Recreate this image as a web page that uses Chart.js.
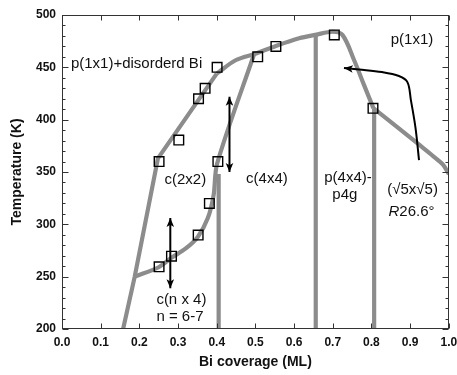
<!DOCTYPE html>
<html>
<head>
<meta charset="utf-8">
<script src="https://cdn.jsdelivr.net/npm/chart.js@4"></script>
<style>
html,body{margin:0;padding:0;background:#fff;}
canvas{display:block;}
</style>
</head>
<body>
<canvas id="c" width="457" height="375"></canvas>
<script>
// ---- data ----
const xTicks = [0,0.1,0.2,0.3,0.4,0.5,0.6,0.7,0.8,0.9,1.0];
const yTicks = [200,250,300,350,400,450,500];

const squareX = [0.251,0.283,0.352,0.381,0.251,0.302,0.353,0.370,0.401,0.403,0.506,0.553,0.704,0.804];
const squareT = [259.4,269.6,289.7,320,360,380.5,420,430,450,360,460,470,481,410.8];

// upper boundary, straight part
const upLeftX = [0.158,0.188,0.248,0.400];
const upLeftT = [200,250,363,444];
// upper boundary, curved top
const upTopX = [0.400,0.450,0.500,0.550,0.613,0.655,0.700,0.725,0.755,0.781,0.805];
const upTopT = [444,457,463,470,477.7,481,484,481,457,433,411];
// right branch
const rightX = [0.805,0.870,0.920,0.960,0.985,1.000];
const rightT = [411,392,377,365,357,348];
// c(n x 4) / c(2x2) / c(4x4) boundary
const lowX = [0.188,0.250,0.283,0.320,0.351,0.377,0.392,0.401,0.497];
const lowT = [250,259,268,277,288,306,328,358,463];
// vertical phase boundaries
const vertX = [0.405,0.656,0.807];
const vertTop = [348,480,411];
const vertBottom = 200;

// black arrows
const arrow1X = [0.28,0.28];   const arrow1T = [239,306];
const arrow2X = [0.433,0.433]; const arrow2T = [350,422];
const arrow3X = [0.923,0.914,0.902,0.893,0.871,0.827,0.768,0.729];
const arrow3T = [361.4,392,418.7,435.9,441.7,445.5,447.9,449.3];

// text labels
const labelText = ['p(1x1)+disorderd Bi','p(1x1)','c(2x2)','c(4x4)','p(4x4)-','p4g','(\u221A5x\u221A5)','c(n x 4)','n = 6-7'];
const labelX    = [0.023,0.850,0.265,0.476,0.678,0.699,0.841,0.244,0.244];
const labelT    = [452.9,476,342.3,343.9,344,327.9,332.7,227.5,211.6];
const rotLabelX = 0.844, rotLabelT = 312; // "R26.6°"

const FONT = "'Liberation Sans', Arial, Helvetica, sans-serif";
const GRAY = '#8c8c8c';

function pts(xs, ys){ return xs.map((x,i)=>({x:x, y:ys[i]})); }

function grayLine(xs, ys, tension){
  return {data: pts(xs,ys), showLine:true, borderColor:GRAY, borderWidth:4.2,
          pointRadius:0, tension:tension, fill:false, borderCapStyle:'butt', borderJoinStyle:'round'};
}
function blackLine(xs, ys, tension, heads){
  return {data: pts(xs,ys), showLine:true, borderColor:'#000', borderWidth:2,
          pointRadius:0, tension:tension, fill:false, arrowHeads:heads};
}

const datasets = [
  {data: pts(squareX, squareT), pointStyle:'rect', pointRadius:6.8, pointBorderWidth:1.4,
   pointBorderColor:'#000', pointBackgroundColor:'rgba(0,0,0,0)', showLine:false},
  blackLine(arrow1X, arrow1T, 0, 'both'),
  blackLine(arrow2X, arrow2T, 0, 'both'),
  blackLine(arrow3X, arrow3T, 0.35, 'end'),
  grayLine(upLeftX, upLeftT, 0),
  grayLine(upTopX, upTopT, 0.35),
  grayLine(rightX, rightT, 0.3),
  grayLine(lowX, lowT, 0.3),
];
vertX.forEach((x,i)=>datasets.push(grayLine([x,x],[vertBottom,vertTop[i]],0)));

const decorPlugin = {
  id:'decor',
  afterDatasetsDraw(chart){
    const ctx = chart.ctx;
    // arrowheads
    chart.data.datasets.forEach((ds,i)=>{
      if(!ds.arrowHeads) return;
      const d = chart.getDatasetMeta(i).data;
      const head = (tip, from)=>{
        const ang = Math.atan2(tip.y-from.y, tip.x-from.x);
        const L = 9, W = 3.8;
        ctx.save();
        ctx.translate(tip.x, tip.y); ctx.rotate(ang);
        ctx.beginPath(); ctx.moveTo(0,0); ctx.lineTo(-L,-W); ctx.lineTo(-L*0.75,0); ctx.lineTo(-L,W); ctx.closePath();
        ctx.fillStyle='#000'; ctx.fill();
        ctx.restore();
      };
      const n = d.length;
      head(d[n-1], d[n-2]);
      if(ds.arrowHeads==='both') head(d[0], d[1]);
    });
    // labels
    const xs = chart.scales.x, ys = chart.scales.y;
    ctx.save();
    ctx.fillStyle='#111';
    ctx.textBaseline='middle'; ctx.textAlign='left';
    ctx.font = '15px ' + FONT;
    labelText.forEach((t,i)=>{
      ctx.fillText(t, xs.getPixelForValue(labelX[i]), ys.getPixelForValue(labelT[i]));
    });
    const rx = xs.getPixelForValue(rotLabelX), ry = ys.getPixelForValue(rotLabelT);
    ctx.font = 'italic 15px ' + FONT;
    ctx.fillText('R', rx, ry);
    const w = ctx.measureText('R').width;
    ctx.font = '15px ' + FONT;
    ctx.fillText('26.6\u00B0', rx + w, ry);
    ctx.restore();
  },
  afterDraw(chart){
    const ctx = chart.ctx, a = chart.chartArea;
    const xs = chart.scales.x, ys = chart.scales.y;
    ctx.save();
    ctx.strokeStyle='#333'; ctx.lineWidth=1;
    const L = Math.round(a.left)+0.5, R = Math.round(a.right)-0.5, T = Math.round(a.top)+0.5, B = Math.round(a.bottom)-0.5;
    ctx.strokeRect(L, T, R-L, B-T);
    ctx.beginPath();
    xTicks.forEach(v=>{
      const px = Math.round(xs.getPixelForValue(v))+0.5;
      ctx.moveTo(px,B); ctx.lineTo(px,B-5);
      ctx.moveTo(px,T); ctx.lineTo(px,T+5);
    });
    for(let v=200; v<=500; v+=10){
      const py = Math.round(ys.getPixelForValue(v))+0.5;
      const len = (v%50===0)?6:3;
      ctx.moveTo(L,py); ctx.lineTo(L+len,py);
      ctx.moveTo(R,py); ctx.lineTo(R-len,py);
    }
    ctx.stroke();
    ctx.restore();
  }
};

new Chart(document.getElementById('c'), {
  type:'scatter',
  data:{datasets},
  options:{
    responsive:false, animation:false, devicePixelRatio:1,
    layout:{padding:{top:15,right:7,left:0,bottom:0}},
    plugins:{legend:{display:false}, tooltip:{enabled:false}},
    scales:{
      x:{type:'linear', min:0, max:1,
         afterBuildTicks(s){ s.ticks = xTicks.map(v=>({value:v})); },
         ticks:{callback:v=>Number(v).toFixed(1), font:{family:FONT, size:12, weight:'bold'}, color:'#111', padding:6, maxRotation:0, autoSkip:false},
         grid:{display:false, drawTicks:false}, border:{display:false},
         title:{display:true, text:'Bi coverage (ML)', color:'#111', font:{family:FONT, size:14, weight:'bold'}, padding:{top:0,bottom:4}},
         afterFit(s){ s.height = 46; s.paddingLeft=0; s.paddingRight=0; }
      },
      y:{type:'linear', min:200, max:500,
         afterBuildTicks(s){ s.ticks = yTicks.map(v=>({value:v})); },
         ticks:{font:{family:FONT, size:12, weight:'bold'}, color:'#111', padding:6},
         grid:{display:false, drawTicks:false}, border:{display:false},
         title:{display:true, text:'Temperature (K)', color:'#111', font:{family:FONT, size:14, weight:'bold'}, padding:{top:9,bottom:0}},
         afterFit(s){ s.width = 62; s.paddingTop=0; s.paddingBottom=0; }
      }
    }
  },
  plugins:[decorPlugin]
});
</script>
</body>
</html>
